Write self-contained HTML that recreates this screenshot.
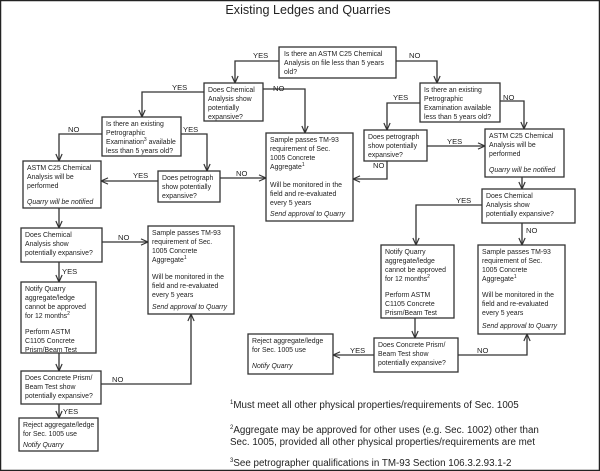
<!DOCTYPE html>
<html><head><meta charset="utf-8"><style>
html,body{margin:0;padding:0;background:#fff}
svg{display:block}
text{font-family:"Liberation Sans",sans-serif;fill:#222}
.b{font-size:6.9px}
.l{font-size:7.6px}
.f{font-size:9.8px}
rect{fill:#fff;stroke:#333;stroke-width:1.3}
path{fill:none;stroke:#333;stroke-width:1.3}
.i{font-style:italic}
</style></head><body>
<svg width="600" height="471" viewBox="0 0 600 471" xmlns="http://www.w3.org/2000/svg">
<defs><marker id="a" viewBox="0 0 10 10" refX="10" refY="5" markerWidth="6" markerHeight="6" orient="auto"><path d="M1,1 L10,5 L1,9" style="stroke:#333;stroke-width:1.5;fill:none"/></marker></defs>
<rect x="0.5" y="0.5" width="599" height="470" style="stroke:#222;stroke-width:1.5"/>
<text x="308" y="14" text-anchor="middle" style="font-size:12.6px">Existing Ledges and Quarries</text>

<path d="M279,61 H235 V83" marker-end="url(#a)"/>
<path d="M396,61 H437 V83" marker-end="url(#a)"/>
<path d="M263,89 H305 V133" marker-end="url(#a)"/>
<path d="M204,92 H142 V117" marker-end="url(#a)"/>
<path d="M102,134 H59 V161" marker-end="url(#a)"/>
<path d="M181,134 H207 V171" marker-end="url(#a)"/>
<path d="M158,181 H101" marker-end="url(#a)"/>
<path d="M220,178 H266" marker-end="url(#a)"/>
<path d="M59,208 V228" marker-end="url(#a)"/>
<path d="M102,242 H148" marker-end="url(#a)"/>
<path d="M59,262 V282" marker-end="url(#a)"/>
<path d="M59,353 V371" marker-end="url(#a)"/>
<path d="M101,384 H191 V314" marker-end="url(#a)"/>
<path d="M59,404 V418" marker-end="url(#a)"/>
<path d="M420,103 H387 V130" marker-end="url(#a)"/>
<path d="M500,101 H524 V129" marker-end="url(#a)"/>
<path d="M427,146 H485" marker-end="url(#a)"/>
<path d="M387,161 V179 H353" marker-end="url(#a)"/>
<path d="M522,177 V189" marker-end="url(#a)"/>
<path d="M482,205 H416 V245" marker-end="url(#a)"/>
<path d="M522,223 V245" marker-end="url(#a)"/>
<path d="M415,318 V338" marker-end="url(#a)"/>
<path d="M374,355 H333" marker-end="url(#a)"/>
<path d="M458,355 H527 V334" marker-end="url(#a)"/>

<g class="b">
<rect x="279" y="47" width="117" height="31"/>
<text x="284" y="56">Is there an ASTM C25 Chemical</text><text x="284" y="65">Analysis on file less than 5 years</text><text x="284" y="74">old?</text>

<rect x="204" y="83" width="59" height="38"/>
<text x="208" y="92">Does Chemical</text><text x="208" y="101">Analysis show</text><text x="208" y="110">potentially</text><text x="208" y="119">expansive?</text>

<rect x="266" y="133" width="87" height="88"/>
<text x="270" y="142">Sample passes TM-93</text><text x="270" y="151">requirement of Sec.</text><text x="270" y="160">1005 Concrete</text><text x="270" y="169">Aggregate<tspan dy="-3" style="font-size:5px">1</tspan></text>
<text x="270" y="187">Will be monitored in the</text><text x="270" y="196">field and re-evaluated</text><text x="270" y="205">every 5 years</text><text x="270" y="216" class="i">Send approval to Quarry</text>

<rect x="102" y="117" width="79" height="39"/>
<text x="106" y="126">Is there an existing</text><text x="106" y="135">Petrographic</text><text x="106" y="144">Examination<tspan dy="-3" style="font-size:5px">3</tspan><tspan dy="3"> available</tspan></text><text x="106" y="153">less than 5 years old?</text>

<rect x="23" y="161" width="78" height="47"/>
<text x="27" y="170">ASTM C25 Chemical</text><text x="27" y="179">Analysis will be</text><text x="27" y="188">performed</text><text x="27" y="204" class="i">Quarry will be notified</text>

<rect x="158" y="171" width="62" height="31"/>
<text x="162" y="180">Does petrograph</text><text x="162" y="189">show potentially</text><text x="162" y="198">expansive?</text>

<rect x="21" y="228" width="81" height="34"/>
<text x="25" y="237">Does Chemical</text><text x="25" y="246">Analysis show</text><text x="25" y="255">potentially  expansive?</text>

<rect x="148" y="226" width="86" height="88"/>
<text x="152" y="235">Sample passes TM-93</text><text x="152" y="244">requirement of Sec.</text><text x="152" y="253">1005 Concrete</text><text x="152" y="262">Aggregate<tspan dy="-3" style="font-size:5px">1</tspan></text>
<text x="152" y="279">Will be monitored in the</text><text x="152" y="288">field and re-evaluated</text><text x="152" y="297">every 5 years</text><text x="152" y="309" class="i">Send approval to Quarry</text>

<rect x="21" y="282" width="75" height="71"/>
<text x="25" y="291">Notify Quarry</text><text x="25" y="300">aggregate/ledge</text><text x="25" y="309">cannot be approved</text><text x="25" y="318">for 12 months<tspan dy="-3" style="font-size:5px">2</tspan></text>
<text x="25" y="334">Perform ASTM</text><text x="25" y="343">C1105 Concrete</text><text x="25" y="352">Prism/Beam Test</text>

<rect x="21" y="371" width="80" height="33"/>
<text x="25" y="380">Does Concrete Prism/</text><text x="25" y="389">Beam Test  show</text><text x="25" y="398">potentially expansive?</text>

<rect x="19" y="418" width="79" height="33"/>
<text x="23" y="427">Reject aggregate/ledge</text><text x="23" y="436">for Sec. 1005 use</text><text x="23" y="447" class="i">Notify Quarry</text>

<rect x="420" y="83" width="80" height="39"/>
<text x="424" y="92">Is there an existing</text><text x="424" y="101">Petrographic</text><text x="424" y="110">Examination available</text><text x="424" y="119">less than 5 years old?</text>

<rect x="364" y="130" width="63" height="31"/>
<text x="368" y="139">Does petrograph</text><text x="368" y="148">show potentially</text><text x="368" y="157">expansive?</text>

<rect x="485" y="129" width="79" height="48"/>
<text x="489" y="138">ASTM C25 Chemical</text><text x="489" y="147">Analysis will be</text><text x="489" y="156">performed</text><text x="489" y="172" class="i">Quarry will be notified</text>

<rect x="482" y="189" width="93" height="34"/>
<text x="486" y="198">Does Chemical</text><text x="486" y="207">Analysis show</text><text x="486" y="216">potentially expansive?</text>

<rect x="381" y="245" width="73" height="73"/>
<text x="385" y="254">Notify Quarry</text><text x="385" y="263">aggregate/ledge</text><text x="385" y="272">cannot be approved</text><text x="385" y="281">for 12 months<tspan dy="-3" style="font-size:5px">2</tspan></text>
<text x="385" y="297">Perform ASTM</text><text x="385" y="306">C1105 Concrete</text><text x="385" y="315">Prism/Beam Test</text>

<rect x="478" y="245" width="87" height="89"/>
<text x="482" y="254">Sample passes TM-93</text><text x="482" y="263">requirement of Sec.</text><text x="482" y="272">1005 Concrete</text><text x="482" y="281">Aggregate<tspan dy="-3" style="font-size:5px">1</tspan></text>
<text x="482" y="297">Will be monitored in the</text><text x="482" y="306">field and re-evaluated</text><text x="482" y="315">every 5 years</text><text x="482" y="328" class="i">Send approval to Quarry</text>

<rect x="374" y="338" width="84" height="34"/>
<text x="378" y="347">Does Concrete Prism/</text><text x="378" y="356">Beam Test  show</text><text x="378" y="365">potentially expansive?</text>

<rect x="248" y="334" width="85" height="40"/>
<text x="252" y="343">Reject aggregate/ledge</text><text x="252" y="352">for Sec. 1005 use</text><text x="252" y="368" class="i">Notify Quarry</text>
</g>

<g class="l">
<text x="253" y="58">YES</text><text x="409" y="58">NO</text>
<text x="172" y="90">YES</text><text x="273" y="91">NO</text>
<text x="68" y="132">NO</text><text x="183" y="132">YES</text>
<text x="133" y="178">YES</text><text x="236" y="176">NO</text>
<text x="118" y="240">NO</text><text x="62" y="274">YES</text>
<text x="112" y="382">NO</text><text x="63" y="414">YES</text>
<text x="393" y="100">YES</text><text x="503" y="100">NO</text>
<text x="447" y="144">YES</text><text x="373" y="168">NO</text>
<text x="456" y="203">YES</text><text x="526" y="233">NO</text>
<text x="350" y="353">YES</text><text x="477" y="353">NO</text>
</g>

<g class="f">
<text x="230" y="408"><tspan dy="-4" style="font-size:6px">1</tspan><tspan dy="4">Must meet all other physical properties/requirements of Sec. 1005</tspan></text>
<text x="230" y="433"><tspan dy="-4" style="font-size:6px">2</tspan><tspan dy="4">Aggregate may be approved for other uses (e.g. Sec. 1002) other than</tspan></text>
<text x="230" y="445">Sec. 1005, provided all other physical properties/requirements are met</text>
<text x="230" y="466"><tspan dy="-4" style="font-size:6px">3</tspan><tspan dy="4">See petrographer qualifications in TM-93 Section 106.3.2.93.1-2</tspan></text>
</g>
</svg>
</body></html>
